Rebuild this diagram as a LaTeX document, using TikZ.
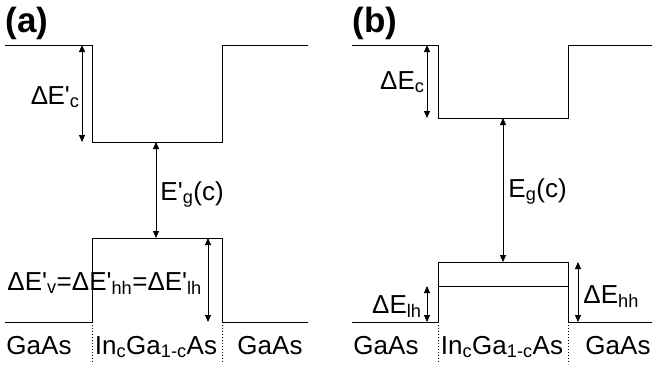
\documentclass[tikz,border=0pt]{standalone}
\usepackage{fontspec}
\setmainfont{Liberation Sans}
\usetikzlibrary{arrows.meta, positioning}

\newcommand{\pq}{\textquotesingle}

\begin{document}
\begin{tikzpicture}[x=1pt, y=-1pt, line width=0.9pt,
          lbl/.style={inner sep=0pt, font=\fontsize{26}{30}\selectfont},
          panel/.style={inner sep=0pt, font=\fontsize{35}{40}\selectfont\bfseries},
          dim/.style={{Triangle[length=7pt,width=6pt]}-{Triangle[length=7pt,width=6pt]}, line width=0.8pt},
          sep/.style={line width=0.8pt, dash pattern=on 1pt off 2pt}]
  \useasboundingbox (0,0) rectangle (652,367);

  % (a) strained well
  \draw (5,45) -- (92,45) -- (92,142) -- (222,142) -- (222,45) -- (308,45);
  \draw (5,322) -- (92,322) -- (92,238) -- (222,238) -- (222,322) -- (308,322);
  \coordinate (aCtop) at (82,45);   \coordinate (aCbot) at (82,142);
  \coordinate (aGtop) at (156,142); \coordinate (aGbot) at (156,238);
  \coordinate (aVtop) at (208,238); \coordinate (aVbot) at (208,322);
  \draw[dim] (aCtop) -- (aCbot);
  \draw[dim] (aGtop) -- (aGbot);
  \draw[dim] (aVtop) -- (aVbot);
  \coordinate (aS1) at (92,322); \coordinate (aS1e) at (92,364);
  \coordinate (aS2) at (222,322); \coordinate (aS2e) at (222,364);
  \draw[sep] (aS1) -- (aS1e);
  \draw[sep] (aS2) -- (aS2e);
  \node[panel, anchor=base west] (pa) at (5,32) {(a)};
  \node[lbl, anchor=base east] (dEca) at (80,104) {Δ\kern-0.5pt E\pq\textsubscript{c}};
  \node[lbl, anchor=base west] (Ega) at (160,200) {E\pq\textsubscript{g}(c)};
  \node[lbl, anchor=base west] (dEva) at (7,290) {ΔE\pq\textsubscript{v}=ΔE\pq\textsubscript{hh}=ΔE\pq\textsubscript{lh}};
  \node[lbl, anchor=base] (gaasLa) at (39,354) {GaAs};
  \node[lbl, anchor=base] (ingaa) at (156,354) {In\textsubscript{c}Ga\textsubscript{1-c}As};
  \node[lbl, anchor=base] (gaasRa) at (270,354) {GaAs};

  % (b) unstrained well
  \draw (352,45) -- (438,45) -- (438,118) -- (568,118) -- (568,45) -- (652,45);
  \draw (352,322) -- (438,322) -- (438,262) -- (568,262) -- (568,322) -- (652,322);
  \draw (438,286) -- (568,286);
  \coordinate (bCtop) at (427,45);   \coordinate (bCbot) at (427,118);
  \coordinate (bGtop) at (503,118);  \coordinate (bGbot) at (503,262);
  \coordinate (bLtop) at (427,286);  \coordinate (bLbot) at (427,322);
  \coordinate (bHtop) at (578,262);  \coordinate (bHbot) at (578,322);
  \draw[dim] (bCtop) -- (bCbot);
  \draw[dim] (bGtop) -- (bGbot);
  \draw[dim] (bLtop) -- (bLbot);
  \draw[dim] (bHtop) -- (bHbot);
  \coordinate (bS1) at (438,322); \coordinate (bS1e) at (438,364);
  \coordinate (bS2) at (568,322); \coordinate (bS2e) at (568,364);
  \draw[sep] (bS1) -- (bS1e);
  \draw[sep] (bS2) -- (bS2e);
  \node[panel, anchor=base west] (pb) at (352,32) {(b)};
  \node[lbl, anchor=base east] (dEcb) at (425,89) {ΔE\textsubscript{c}};
  \node[lbl, anchor=base west] (Egb) at (508,197) {E\textsubscript{g}(c)};
  \node[lbl, anchor=base east] (dElb) at (422,313) {ΔE\textsubscript{lh}};
  \node[lbl, anchor=base west] (dEhb) at (583,303) {ΔE\textsubscript{hh}};
  \node[lbl, anchor=base] (gaasLb) at (386,354) {GaAs};
  \node[lbl, anchor=base] (ingab) at (502,354) {In\textsubscript{c}Ga\textsubscript{1-c}As};
  \node[lbl, anchor=base] (gaasRb) at (618,354) {GaAs};
\end{tikzpicture}
\end{document}
